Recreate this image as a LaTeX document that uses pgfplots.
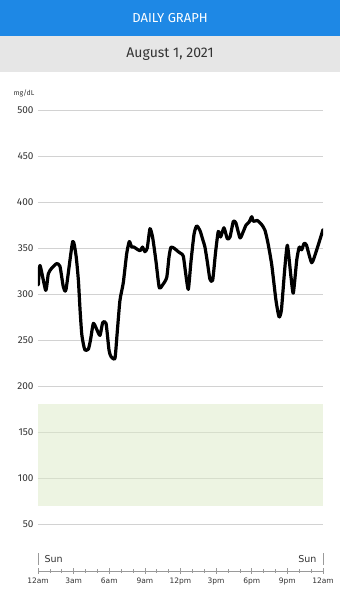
\documentclass[border=0pt]{standalone}
\usepackage{pgfplots}
\pgfplotsset{compat=1.18}
\usepackage{fontspec}
\setmainfont{Fira Sans}
\newfontfamily\dejavu{DejaVu Sans}
\definecolor{headblue}{HTML}{1E88E5}
\definecolor{bandgray}{HTML}{E6E6E6}
\definecolor{gridgray}{HTML}{D2D2D2}
\definecolor{labelgray}{HTML}{333333}
\definecolor{axisgray}{HTML}{9A9A9A}
\definecolor{targetgreen}{RGB}{221,235,199}
\begin{document}
\begin{tikzpicture}
\fill[white] (0pt,0pt) rectangle (340pt,600pt);
\fill[headblue] (0pt,564pt) rectangle (340pt,600pt);
\node[text=white, font=\fontsize{13}{15}\selectfont] at (170pt,582pt) {DAILY GRAPH};
\fill[bandgray] (0pt,528pt) rectangle (340pt,564pt);
\node[text=labelgray, font=\fontsize{14}{16}\selectfont] at (170pt,546pt) {August 1, 2021};
\node[text=labelgray, font=\fontsize{7}{8}\selectfont] at (24pt,507pt) {mg/dL};

\begin{axis}[
  at={(38pt,76pt)}, anchor=south west,
  scale only axis, width=285pt, height=414pt,
  xmin=0, xmax=24, ymin=50, ymax=500,
  axis line style={draw=none},
  xtick=\empty,
  ytick={50,100,...,500},
  ymajorgrids, grid style={color=gridgray, line width=0.8pt},
  major tick length=0pt,
  tick label style={font=\fontsize{10}{12}\selectfont, text=labelgray},
  /pgf/number format/assume math mode=true,
  yticklabel style={xshift=-1pt},
]
\addplot[fill=targetgreen, fill opacity=0.5, draw=none] coordinates {(0,70) (24,70) (24,180) (0,180)} -- cycle;
\addplot[black, line width=3.2pt, line join=round, line cap=round, smooth, tension=0.35] coordinates {
(0.03,310) (0.17,331) (0.65,304) (0.87,322) (1.15,328) (1.57,333) (1.85,330)
(2.13,308) (2.36,305) (2.92,357) (3.2,342) (3.4,315) (3.54,283) (3.68,257)
(3.83,245) (3.96,239) (4.24,240) (4.42,250) (4.66,268) (4.93,262) (5.22,255)
(5.45,269) (5.73,268) (5.98,239) (6.15,232) (6.48,230) (6.65,255) (6.9,293)
(7.18,312) (7.47,344) (7.69,357) (7.89,351) (8.08,351) (8.31,349) (8.6,347)
(8.8,351) (9.0,346) (9.2,350) (9.43,371) (9.66,361) (9.94,335) (10.21,307)
(10.5,310) (10.84,318) (11.03,340) (11.2,351) (11.54,349) (11.81,346)
(12.04,344) (12.24,341) (12.46,320) (12.66,305) (12.88,335) (13.14,365)
(13.36,374) (13.64,369) (13.9,358) (14.06,351) (14.27,334) (14.48,316)
(14.71,315) (14.95,345) (15.18,368) (15.38,362) (15.66,372) (15.94,360)
(16.17,362) (16.45,379) (16.67,377) (17.01,361) (17.26,367) (17.52,375)
(17.77,378) (18.0,384) (18.13,379) (18.47,380) (18.64,378) (18.86,375)
(19.12,369) (19.37,355) (19.68,332) (20.04,293) (20.3,275) (20.5,283)
(20.77,326) (21.0,353) (21.3,319) (21.5,301) (21.79,337) (22.0,351)
(22.2,348) (22.41,355) (22.61,353) (23.05,334) (23.47,348) (24.0,370)
};
\end{axis}

\begin{axis}[
  at={(38pt,29pt)}, anchor=south west,
  scale only axis, width=285pt, height=10pt,
  xmin=0, xmax=24, ymin=0, ymax=1,
  axis x line*=bottom, axis y line=none,
  xtick={0,3,...,24},
  xticklabels={12am,3am,6am,9am,12pm,3pm,6pm,9pm,12am},
  minor xtick={0,1,...,24},
  xtick align=center, major tick length=6pt, minor tick length=4pt,
  tick style={color=axisgray, line width=0.6pt},
  axis line style={color=axisgray, line width=0.8pt},
  xticklabel style={font=\dejavu\fontsize{7.5}{9}\selectfont, text=labelgray},
]
\end{axis}

\draw[axisgray, line width=0.8pt] (38pt,35pt) -- (38pt,47pt);
\draw[axisgray, line width=0.8pt] (323pt,35pt) -- (323pt,47pt);
\node[anchor=west, text=labelgray, font=\dejavu\fontsize{9.5}{11}\selectfont] at (41pt,41pt) {Sun};
\node[anchor=east, text=labelgray, font=\dejavu\fontsize{9.5}{11}\selectfont] at (320pt,41pt) {Sun};

\pgfresetboundingbox
\path[use as bounding box] (0pt,0pt) rectangle (340pt,600pt);
\end{tikzpicture}
\end{document}
